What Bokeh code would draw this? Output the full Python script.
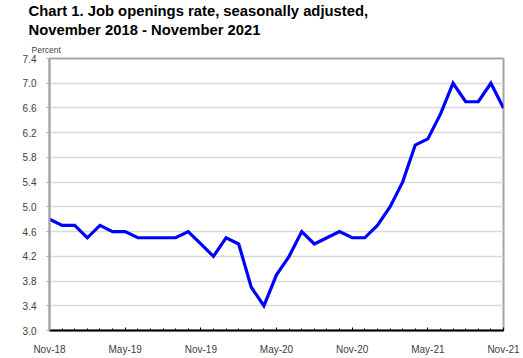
from bokeh.plotting import figure
from bokeh.models import FixedTicker, Range1d, Title, ColumnDataSource
from bokeh.embed import file_html
from bokeh.resources import INLINE

# Data: monthly job openings rate, Nov 2018 - Nov 2021
months = ["Nov-18", "Dec-18", "Jan-19", "Feb-19", "Mar-19", "Apr-19", "May-19", "Jun-19",
          "Jul-19", "Aug-19", "Sep-19", "Oct-19", "Nov-19", "Dec-19", "Jan-20", "Feb-20",
          "Mar-20", "Apr-20", "May-20", "Jun-20", "Jul-20", "Aug-20", "Sep-20", "Oct-20",
          "Nov-20", "Dec-20", "Jan-21", "Feb-21", "Mar-21", "Apr-21", "May-21", "Jun-21",
          "Jul-21", "Aug-21", "Sep-21", "Oct-21", "Nov-21"]
rate = [4.8, 4.7, 4.7, 4.5, 4.7, 4.6, 4.6, 4.5, 4.5, 4.5, 4.5, 4.6, 4.4, 4.2, 4.5, 4.4,
        3.7, 3.4, 3.9, 4.2, 4.6, 4.4, 4.5, 4.6, 4.5, 4.5, 4.7, 5.0, 5.4, 6.0, 6.1, 6.5,
        7.0, 6.7, 6.7, 7.0, 6.6]
x_tick_labels = ["Nov-18", "May-19", "Nov-19", "May-20", "Nov-20", "May-21", "Nov-21"]
y_ticks = [3.0, 3.4, 3.8, 4.2, 4.6, 5.0, 5.4, 5.8, 6.2, 6.6, 7.0, 7.4]

idx = list(range(len(months)))
src = ColumnDataSource(dict(x=idx, y=rate))

p = figure(width=523, height=358, output_backend="svg", toolbar_location=None,
           x_range=Range1d(0, len(months) - 1), y_range=Range1d(3.0, 7.4),
           min_border_left=49, min_border_right=20, min_border_top=0, min_border_bottom=28)
p.title = None
p.background_fill_color = "white"
p.border_fill_color = "white"
p.outline_line_color = "#a6a6a6"
p.outline_line_width = 2

p.line("x", "y", source=src, line_color="#0000ff", line_width=3.2, line_join="miter")

# X axis
major_x = [months.index(m) for m in x_tick_labels]
p.xaxis.ticker = FixedTicker(ticks=major_x, minor_ticks=idx)
p.xaxis.major_label_overrides = {i: m for i, m in zip(major_x, x_tick_labels)}
p.xaxis.axis_line_color = "black"
p.xaxis.axis_line_width = 2
p.xaxis.major_tick_in = 3
p.xaxis.major_tick_out = 0
p.xaxis.minor_tick_in = 2
p.xaxis.minor_tick_out = 0
p.xaxis.major_tick_line_color = "black"
p.xaxis.minor_tick_line_color = "black"
p.xaxis.major_label_text_font = "Liberation Sans"
p.xaxis.major_label_text_font_size = "10px"
p.xaxis.major_label_text_color = "#404040"
p.xaxis.major_label_standoff = 13

# Y axis
p.yaxis.ticker = FixedTicker(ticks=y_ticks)
p.yaxis.major_label_overrides = {v: f"{v:.1f}" for v in y_ticks}
p.yaxis.axis_line_color = "#a6a6a6"
p.yaxis.axis_line_width = 2
p.yaxis.major_tick_in = 0
p.yaxis.major_tick_out = 3
p.yaxis.major_tick_line_color = "#a6a6a6"
p.yaxis.minor_tick_line_color = None
p.yaxis.major_label_text_font = "Liberation Sans"
p.yaxis.major_label_text_font_size = "10px"
p.yaxis.major_label_text_color = "#404040"
p.yaxis.major_label_standoff = 10

p.xgrid.grid_line_color = None
p.ygrid.ticker = FixedTicker(ticks=y_ticks)
p.ygrid.grid_line_color = "#d9d9d9"
p.ygrid.grid_line_width = 1.5

# Titles (first added sits closest to the plot)
p.add_layout(Title(text="Percent", align="left", offset=-18, standoff=8,
                   text_font="Liberation Sans", text_font_style="normal",
                   text_font_size="8.5px", text_color="#404040"), "above")
p.add_layout(Title(text="November 2018 - November 2021", align="left", offset=-21,
                   standoff=2, text_font="Liberation Sans", text_font_style="bold",
                   text_font_size="14.8px", text_color="black"), "above")
p.add_layout(Title(text="Chart 1. Job openings rate, seasonally adjusted,", align="left",
                   offset=-21, standoff=0, text_font="Liberation Sans",
                   text_font_style="bold", text_font_size="14.8px", text_color="black"), "above")

open("out.html", "w").write(file_html(p, INLINE))
